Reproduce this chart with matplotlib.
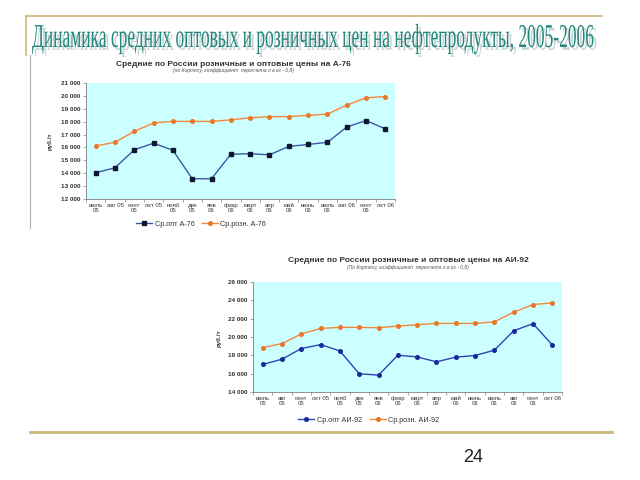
import matplotlib
matplotlib.use('Agg')
import matplotlib.pyplot as plt
import matplotlib.colors as mcolors
from matplotlib.lines import Line2D
from matplotlib.patheffects import AbstractPathEffect
from matplotlib.ticker import FuncFormatter, FixedLocator
from matplotlib.transforms import Affine2D

# --- данные ---
months_a76 = ['июль\n05', 'авг 05', 'сент\n05', 'окт 05', 'нояб\n05', 'дек\n05',
              'янв\n06', 'февр\n06', 'март\n06', 'апр\n06', 'май\n06', 'июнь\n06',
              'июль\n06', 'авг 06', 'сент\n06', 'окт 06']
months_ai92 = ['июль\n05', 'авг\n05', 'сент\n05', 'окт 05', 'нояб\n05', 'дек\n05',
               'янв\n06', 'февр\n06', 'март\n06', 'апр\n06', 'май\n06', 'июнь\n06',
               'июль\n06', 'авг\n06', 'сент\n06', 'окт 06']

opt_a76 = [14040, 14420, 15820, 16330, 15780, 13570, 13570, 15480, 15510, 15430,
           16080, 16230, 16400, 17580, 18090, 17440]
rozn_a76 = [16120, 16400, 17240, 17900, 18020, 18020, 18020, 18140, 18300, 18380,
            18400, 18480, 18590, 19280, 19850, 19950]

opt_ai92 = [17000, 17580, 18740, 19170, 18480, 15990, 15840, 18010, 17830, 17290,
            17800, 17980, 18560, 20690, 21450, 19130]
rozn_ai92 = [18840, 19280, 20330, 20940, 21050, 21050, 21010, 21190, 21340, 21480,
             21480, 21480, 21660, 22710, 23540, 23720]

W, H = 640, 480
fig = plt.figure(figsize=(6.4, 4.8), dpi=100)
fig.patch.set_facecolor('white')

GOLD = '#C9B87A'
TEAL = '#23877C'
CYAN = '#CCFFFF'
ORANGE = '#F2883A'


def px(x, y):
    # пиксели (от левого верхнего угла) -> доли фигуры
    return x / W, 1 - y / H


class Tall(AbstractPathEffect):
    """Растягивает текст по вертикали (узкий шрифт заголовка)."""
    def __init__(self, sy, offset=(0, 0), color=None, alpha=None):
        super().__init__(offset)
        self.sy = sy
        self.color = color
        self.alpha = alpha

    def draw_path(self, renderer, gc, tpath, affine, rgbFace=None):
        gc0 = renderer.new_gc()
        gc0.copy_properties(gc)
        if self.color is not None:
            rgbFace = mcolors.to_rgba(self.color)
        if self.alpha is not None:
            gc0.set_alpha(self.alpha)
        aff = Affine2D().scale(1, self.sy) + affine + self._offset_transform(renderer)
        renderer.draw_path(gc0, tpath, aff, rgbFace)
        gc0.restore()


# --- рамка слайда ---
fig.add_artist(Line2D([26 / W, 602 / W], [1 - 16 / H] * 2, color=GOLD, lw=1.2))
fig.add_artist(Line2D([26 / W] * 2, [1 - 16 / H, 1 - 55 / H], color=GOLD, lw=1.2))
fig.add_artist(Line2D([30 / W] * 2, [1 - 55 / H, 1 - 228 / H], color='#B0B0B0', lw=0.8))
fig.add_artist(Line2D([30 / W, 612 / W], [1 - 432 / H] * 2, color=GOLD, lw=2))

# --- заголовок слайда ---
title = 'Динамика средних оптовых и розничных цен на нефтепродукты, 2005-2006'
x0, yb = px(32, 47)
t = fig.text(x0, yb, title, fontsize=20, family='Liberation Serif', color=TEAL,
             ha='left', va='baseline')
fig.canvas.draw()
w = t.get_window_extent().width
fs = 20 * 563 / w
t.set_fontsize(fs)
sy = 22 / (0.66 * fs * 100 / 72)
t.set_path_effects([Tall(sy, offset=(2, -2), color='#9FB5B5', alpha=0.6),
                    Tall(sy)])

fig.text(*px(473, 457), '24', fontsize=13, family='Liberation Sans',
         ha='center', va='center', color='#222222')


def thousands(v, pos):
    return f'{int(v):,}'.replace(',', ' ')


def draw_chart(rect, months, opt, rozn, ylim, step, opt_color, opt_mcolor, opt_marker,
               names, title_xy, title, subtitle, ylabel_xy, legend_xy):
    l, t_, r, b = rect
    ax = fig.add_axes([l / W, 1 - b / H, (r - l) / W, (b - t_) / H])
    ax.set_facecolor(CYAN)
    x = list(range(len(months)))
    ax.plot(x, opt, color=opt_color, lw=1, marker=opt_marker, ms=2.6,
            mfc=opt_mcolor, mec=opt_mcolor, label=names[0])
    ax.plot(x, rozn, color=ORANGE, lw=1, marker='o', ms=2.6,
            mfc='#E8782A', mec='#E8782A', label=names[1])
    ax.set_xlim(-0.5, len(months) - 0.5)
    ax.set_ylim(*ylim)
    ax.set_yticks(range(ylim[0], ylim[1] + 1, step))
    ax.yaxis.set_major_formatter(FuncFormatter(thousands))
    ax.set_xticks(x)
    ax.set_xticklabels(months, fontsize=4.3, color='#333333', linespacing=1.0,
                       family='Liberation Sans')
    ax.xaxis.set_minor_locator(FixedLocator([i - 0.5 for i in range(len(months) + 1)]))
    ax.tick_params(axis='x', which='major', length=0, pad=3)
    ax.tick_params(axis='x', which='minor', length=2, width=0.5, color='#808080')
    ax.tick_params(axis='y', length=2, width=0.5, color='#808080', pad=2,
                   labelsize=4.6, labelcolor='#333333')
    for lab in ax.get_yticklabels():
        lab.set_family('Liberation Sans')
        lab.set_fontweight('bold')
    for s in ('top', 'right'):
        ax.spines[s].set_visible(False)
    for s in ('left', 'bottom'):
        ax.spines[s].set_color('#808080')
        ax.spines[s].set_linewidth(0.6)

    fig.text(*px(*title_xy), title, fontsize=6, fontweight='bold', color='#333333',
             family='Liberation Sans', ha='center', va='center')
    fig.text(*px(title_xy[0], title_xy[1] + 6.5), subtitle, fontsize=3.6,
             style='italic', color='#555555', family='Liberation Sans',
             ha='center', va='center')
    fig.text(*px(*ylabel_xy), 'руб./т', fontsize=4.5, fontweight='bold',
             color='#333333', family='Liberation Sans', rotation=90,
             ha='center', va='center')
    leg = fig.legend(handles=ax.get_lines(), loc='center', bbox_to_anchor=px(*legend_xy),
                     ncol=2, frameon=False, fontsize=5.2, handlelength=2.2,
                     handletextpad=0.4, columnspacing=1.0,
                     prop={'family': 'Liberation Sans', 'size': 5.2})
    for txt in leg.get_texts():
        txt.set_color('#333333')
    return ax


draw_chart((86, 83, 395, 199), months_a76, opt_a76, rozn_a76, (12000, 21000), 1000,
           '#3A58A8', '#101830', 's', ['Ср.опт А-76', 'Ср.розн. А-76'],
           (233, 64), 'Средние по России розничные и оптовые цены на А-76',
           '(по Кортесу, коэффициент  пересчета л в кг - 0,8)',
           (50, 141), (201, 224))

draw_chart((253, 282, 562, 392), months_ai92, opt_ai92, rozn_ai92, (14000, 26000), 2000,
           '#2E44B8', '#1A2A9A', 'o', ['Ср.опт АИ-92', 'Ср.розн. АИ-92'],
           (408, 261), 'Средние по России розничные и оптовые цены на АИ-92',
           '(По Кортесу, коэффициент  пересчета л в кг - 0,8)',
           (219, 338), (369, 420))

fig.savefig('out.png', dpi=100, facecolor='white')
